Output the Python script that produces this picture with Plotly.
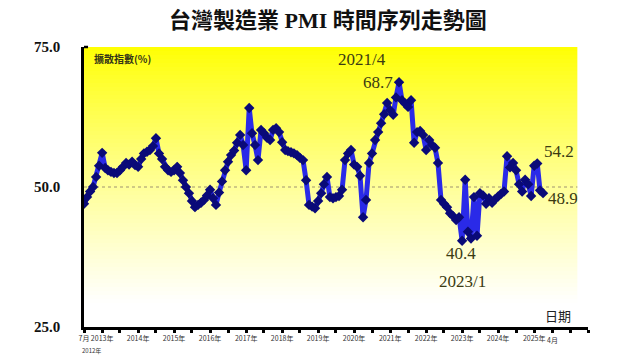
import plotly.graph_objects as go
import pandas as pd

# ---- data (Taiwan manufacturing PMI, monthly, 2012/7 - 2025/4) ----
start_month = "2012-07-01"
pmi_2012 = [47.0, 48.2, 49.2, 50.0, 51.8, 53.8]
pmi_2013 = [56.1, 53.4, 53.0, 52.7, 52.5, 52.5, 53.0, 53.6, 54.3, 54.0, 54.5, 53.9]
pmi_2014 = [53.6, 55.0, 56.0, 56.3, 56.6, 57.3, 58.7, 56.0, 55.0, 53.6, 53.0, 52.7]
pmi_2015 = [53.0, 53.6, 52.5, 51.2, 50.0, 48.9, 47.5, 46.4, 46.8, 47.2, 47.7, 48.5]
pmi_2016 = [49.5, 48.0, 46.8, 49.0, 51.0, 53.0, 54.5, 55.7, 56.5, 57.9, 59.3, 57.5]
pmi_2017 = [53.0, 64.1, 59.6, 57.5, 54.8, 60.2, 59.6, 58.8, 58.4, 60.2, 60.5, 59.8]
pmi_2018 = [58.0, 56.6, 56.4, 56.2, 56.0, 55.7, 55.2, 54.8, 51.2, 46.8, 46.5, 46.2]
pmi_2019 = [47.5, 48.9, 50.5, 51.8, 48.2, 48.0, 48.2, 48.4, 49.5, 54.8, 56.0, 56.6]
pmi_2020 = [54.0, 53.6, 52.0, 44.6, 47.7, 54.3, 56.0, 58.4, 59.8, 61.4, 63.0, 65.0]
pmi_2021 = [63.7, 62.9, 66.0, 68.7, 65.5, 64.9, 64.3, 65.5, 57.9, 59.8, 60.0, 59.3]
pmi_2022 = [56.6, 58.4, 57.5, 57.0, 54.3, 47.7, 47.0, 46.4, 45.3, 44.8, 44.1, 44.6]
pmi_2023 = [40.4, 51.3, 42.0, 40.8, 48.2, 41.3, 48.9, 48.5, 47.0, 48.0, 47.2, 47.8]
pmi_2024 = [48.3, 48.8, 49.2, 55.5, 53.5, 54.3, 53.0, 50.5, 49.2, 51.3, 50.5, 48.4]
pmi_2025 = [53.8, 54.2, 49.4, 48.9]

pmi = (pmi_2012 + pmi_2013 + pmi_2014 + pmi_2015 + pmi_2016 + pmi_2017 + pmi_2018
       + pmi_2019 + pmi_2020 + pmi_2021 + pmi_2022 + pmi_2023 + pmi_2024 + pmi_2025)
months = pd.date_range(start_month, periods=len(pmi), freq="MS")

year_labels = ["2013年", "2014年", "2015年", "2016年", "2017年", "2018年", "2019年",
               "2020年", "2021年", "2022年", "2023年", "2024年", "2025年"]
y_ticks = [25, 50, 75]
y_tick_text = ["<b>25.0</b>", "<b>50.0</b>", "<b>75.0</b>"]

SERIF = "Liberation Serif, Times New Roman, serif"
CJK = "Noto Sans CJK TC, Noto Sans CJK SC, sans-serif"
TXT = "#3b3b12"

x_start = pd.Timestamp("2012-07-01")
x_end = pd.Timestamp("2026-07-01")
panel_end = pd.Timestamp("2026-03-15")

# tick positions every 6 months
tick_dates = pd.date_range("2012-07-01", "2026-07-01", freq="6MS")
tick_text = []
yl = iter(year_labels)
for d in tick_dates:
    if d == x_start:
        tick_text.append("7月")
    elif d.month == 1 and d.year <= 2025:
        tick_text.append(next(yl))
    else:
        tick_text.append("")

fig = go.Figure()

# yellow gradient background (bands)
n_bands = 70
shapes = []
for k in range(n_bands):
    y_hi = 75 - 50 * k / n_bands
    y_lo = 75 - 50 * (k + 1) / n_bands
    t = (k + 0.5) / n_bands
    b = int(min(255, 255 * (t ** 0.85) * 1.08))
    shapes.append(dict(type="rect", xref="x", yref="y", x0=x_start, x1=panel_end,
                       y0=y_lo, y1=y_hi, fillcolor=f"rgb(255,255,{b})",
                       line=dict(width=0), layer="below"))
# dotted 50 line
shapes.append(dict(type="line", xref="x", yref="y", x0=x_start, x1=panel_end, y0=50, y1=50,
                   line=dict(color="#a09470", width=1.2, dash="dot"), layer="below"))
# small hook at top of y axis
shapes.append(dict(type="line", xref="paper", yref="paper", x0=0, x1=0.008, y0=1, y1=1,
                   line=dict(color="black", width=2.5)))

fig.add_trace(go.Scatter(
    x=months, y=pmi, mode="lines+markers",
    line=dict(color="#2a2ae8", width=5),
    marker=dict(symbol="diamond", size=8, color="#0a0a78"),
    hoverinfo="x+y", showlegend=False))

lab = dict(size=17, family=SERIF, color=TXT)
annos = [
    dict(x="2020-03-20", y=72.7, text="2021/4", font=lab,
         showarrow=False, xanchor="center", yanchor="middle"),
    dict(x="2021-02-15", y=68.6, text="68.7", font=lab,
         showarrow=False, xanchor="right", yanchor="middle"),
    dict(x="2025-03-20", y=56.3, text="54.2", font=lab,
         showarrow=False, xanchor="left", yanchor="middle"),
    dict(x="2025-05-01", y=47.9, text="48.9", font=lab,
         showarrow=False, xanchor="left", yanchor="middle"),
    dict(x="2022-12-20", y=38.1, text="40.4", font=lab,
         showarrow=False, xanchor="center", yanchor="middle"),
    dict(x="2023-01-01", y=33.2, text="2023/1", font=lab,
         showarrow=False, xanchor="center", yanchor="middle"),
    dict(xref="paper", yref="paper", x=0.016, y=0.96, text="<b>擴散指數(%)</b>",
         font=dict(size=10, family=CJK, color="#333318"), showarrow=False,
         xanchor="left", yanchor="middle"),
    dict(xref="paper", yref="paper", x=0.94, y=0.04, text="日期",
         font=dict(size=13, family=CJK, color="#222"), showarrow=False,
         xanchor="center", yanchor="middle"),
    dict(x="2012-09-15", y=0, yref="paper", text="2012年", yshift=-23,
         font=dict(size=6, family=CJK, color="#333"), showarrow=False,
         xanchor="center", yanchor="middle"),
    dict(x="2025-07-01", y=0, yref="paper", text="4月", yshift=-13,
         font=dict(size=7, family=CJK, color="#333"), showarrow=False,
         xanchor="center", yanchor="middle"),
]

# the page adds an 8px body margin, so margins are reduced by 8px on left/top
fig.update_layout(
    width=640, height=359,
    margin=dict(l=76, r=60, t=39, b=40),
    paper_bgcolor="white", plot_bgcolor="white",
    title=dict(text="<b>台灣製造業 PMI 時間序列走勢圖</b>", x=0.5, xanchor="center",
               y=0.967, yanchor="middle",
               font=dict(size=22, family="Liberation Serif, Noto Sans CJK TC",
                         color="#111")),
    shapes=shapes, annotations=annos,
    xaxis=dict(type="date", range=[x_start, x_end], showgrid=False, zeroline=False,
               automargin=False,
               showline=True, linecolor="black", linewidth=2.5,
               tickmode="array", tickvals=list(tick_dates), ticktext=tick_text,
               ticks="outside", ticklen=3, tickwidth=2.5, tickcolor="black",
               tickfont=dict(size=7, family=CJK, color="#333"), tickangle=0),
    yaxis=dict(range=[25, 75], showgrid=False, zeroline=False, automargin=False,
               showline=True, linecolor="black", linewidth=2.5,
               tickmode="array", tickvals=y_ticks, ticktext=y_tick_text,
               ticks="", ticklabelstandoff=18,
               tickfont=dict(size=15, family=SERIF, color="#111")),
)

fig.write_html("out.html")
